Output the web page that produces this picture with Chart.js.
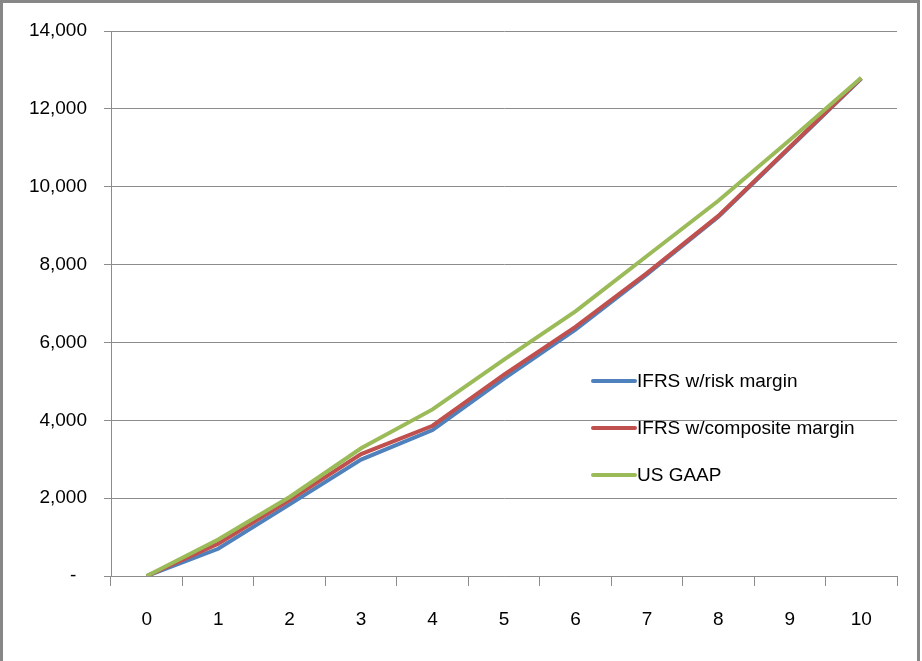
<!DOCTYPE html>
<html>
<head>
<meta charset="utf-8">
<script src="https://cdn.jsdelivr.net/npm/chart.js@4/dist/chart.umd.min.js"></script>
<style>
  html, body { margin: 0; padding: 0; background: #fff; }
  #wrap { position: relative; width: 922px; height: 661px; }
</style>
</head>
<body>
<div id="wrap"><canvas id="c" width="922" height="661"></canvas></div>
<script>
// Years since issue
const periods = ['0', '1', '2', '3', '4', '5', '6', '7', '8', '9', '10'];

// Cumulative profit by accounting basis
const ifrsRiskMargin      = [0, 700, 1840, 2990, 3750, 5070, 6330, 7750, 9230, 11000, 12780];
const ifrsCompositeMargin = [0, 830, 1950, 3130, 3860, 5170, 6400, 7780, 9250, 11020, 12790];
const usGaap              = [0, 940, 2030, 3280, 4280, 5560, 6800, 8220, 9640, 11200, 12800];

const seriesNames  = ['IFRS w/risk margin', 'IFRS w/composite margin', 'US GAAP'];
const seriesColors = ['#4F81BD', '#C0504D', '#9BBB59'];

const yMin = 0, yMax = 14000, yStep = 2000;

const FONT = { family: "'Liberation Sans', Arial, sans-serif", size: 19 };
const GRID = '#8c8c8c';

// White page with the grey frame on top, left and right
const framePlugin = {
  id: 'frame',
  beforeDraw(chart) {
    const ctx = chart.ctx;
    ctx.save();
    ctx.fillStyle = '#ffffff';
    ctx.fillRect(0, 0, chart.width, chart.height);
    ctx.restore();
  },
  afterDraw(chart) {
    const ctx = chart.ctx;
    ctx.save();
    ctx.fillStyle = '#878787';
    ctx.fillRect(0, 0, 920, 3);
    ctx.fillRect(0, 0, 3, chart.height);
    ctx.fillRect(917, 0, 3, chart.height);
    ctx.restore();
  }
};

// Legend drawn inside the plot, lower right
const insideLegend = {
  id: 'insideLegend',
  afterDatasetsDraw(chart) {
    const ctx = chart.ctx;
    const area = chart.chartArea;
    const x0 = area.left + 482;
    const sampleLen = 42;
    const rowGap = 47;
    const y0 = area.top + 350;
    ctx.save();
    ctx.font = `${FONT.size}px ${FONT.family}`;
    ctx.textBaseline = 'middle';
    ctx.textAlign = 'left';
    chart.data.datasets.forEach((ds, i) => {
      const y = y0 + i * rowGap;
      ctx.strokeStyle = ds.borderColor;
      ctx.lineWidth = 4;
      ctx.lineCap = 'round';
      ctx.beginPath();
      ctx.moveTo(x0, y);
      ctx.lineTo(x0 + sampleLen, y);
      ctx.stroke();
      ctx.fillStyle = '#000';
      ctx.fillText(ds.label, x0 + sampleLen + 2, y + 1);
    });
    ctx.restore();
  }
};

const seriesValues = [ifrsRiskMargin, ifrsCompositeMargin, usGaap];
const datasets = seriesValues.map((vals, i) => ({
  label: seriesNames[i],
  data: vals,
  borderColor: seriesColors[i],
  backgroundColor: seriesColors[i],
  borderWidth: 4,
  pointRadius: 0,
  pointHoverRadius: 0,
  tension: 0,
  fill: false,
  order: seriesValues.length - i
}));

new Chart(document.getElementById('c'), {
  type: 'line',
  data: { labels: periods, datasets },
  options: {
    responsive: false,
    animation: false,
    devicePixelRatio: 1,
    layout: { padding: { top: 31, right: 25, bottom: 0, left: 0 } },
    plugins: {
      legend: { display: false },
      tooltip: { enabled: false }
    },
    scales: {
      x: {
        type: 'category',
        offset: true,
        grid: {
          offset: true,
          drawOnChartArea: false,
          drawTicks: true,
          tickLength: 10,
          color: GRID,
          lineWidth: 1
        },
        border: { display: true, color: GRID, width: 1 },
        ticks: { font: FONT, color: '#000', padding: 22, maxRotation: 0 },
        afterFit(scale) { scale.height = 85; }
      },
      y: {
        min: yMin,
        max: yMax,
        grid: {
          color: GRID,
          lineWidth: 1,
          drawTicks: true,
          tickLength: 7
        },
        border: { display: true, color: GRID, width: 1 },
        ticks: {
          stepSize: yStep,
          font: FONT,
          color: '#000',
          padding: 17,
          callback: (v) => v === 0 ? '-  ' : v.toLocaleString('en-US')
        },
        afterFit(scale) { scale.width = 111; }
      }
    }
  },
  plugins: [framePlugin, insideLegend]
});
</script>
</body>
</html>
